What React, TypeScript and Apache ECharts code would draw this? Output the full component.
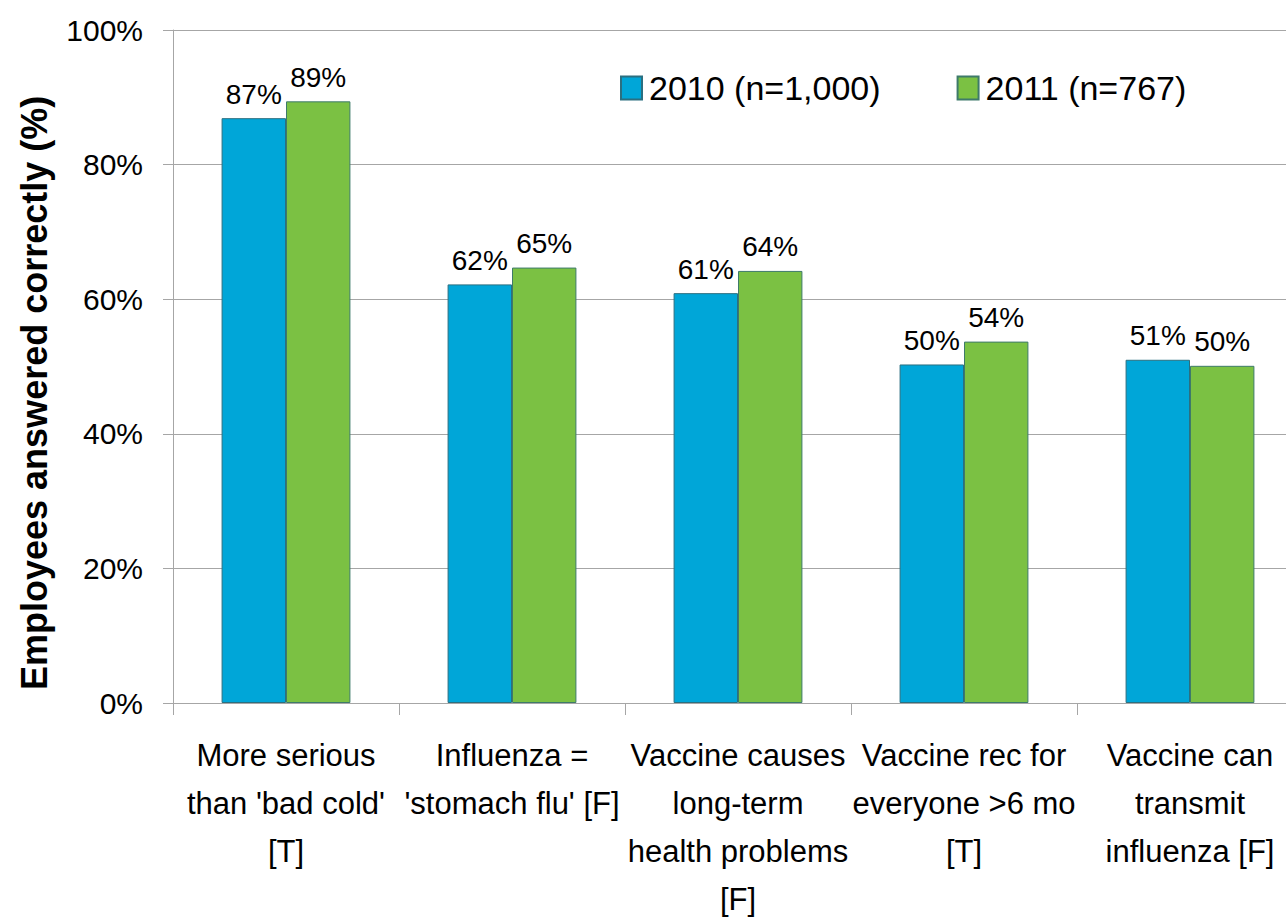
import React, { useEffect, useRef } from "react";
import * as echarts from "echarts";

const categories = [
  "More serious\nthan 'bad cold'\n[T]",
  "Influenza =\n'stomach flu' [F]",
  "Vaccine causes\nlong-term\nhealth problems\n[F]",
  "Vaccine rec for\neveryone >6 mo\n[T]",
  "Vaccine can\ntransmit\ninfluenza [F]",
];
const series2010 = [86.9, 62.2, 60.9, 50.3, 51.0];
const series2011 = [89.4, 64.7, 64.2, 53.7, 50.1];
const seriesNames = ["2010 (n=1,000)", "2011 (n=767)"];
const yTicks = { min: 0, max: 100, interval: 20 };
const yTitle = "Employees answered correctly (%)";

const FONT = "'Liberation Sans', Arial, sans-serif";

export default function App() {
  const ref = useRef<HTMLDivElement>(null);
  useEffect(() => {
    document.body.style.margin = "0";
    document.body.style.overflow = "hidden";
    if (!ref.current) return;
    const chart = echarts.init(ref.current, undefined, { renderer: "svg" });
    const labelCfg = {
      show: true,
      position: "top" as const,
      distance: 10,
      fontSize: 28,
      color: "#000",
      fontFamily: FONT,
      formatter: (p: any) => Math.round(p.value) + "%",
    };
    chart.setOption({
      animation: false,
      backgroundColor: "#fff",
      textStyle: { fontFamily: FONT },
      grid: { left: 173, top: 30, right: 0, height: 679 },
      graphic: [
        {
          type: "text",
          x: 34,
          y: 690,
          rotation: Math.PI / 2,
          style: {
            text: yTitle,
            font: "bold 36px 'Liberation Sans', Arial, sans-serif",
            fill: "#000",
            align: "left",
            verticalAlign: "middle",
          },
        },
      ],
      legend: {
        left: 615,
        top: 66,
        icon: "rect",
        itemWidth: 21,
        itemHeight: 23,
        itemGap: 76,
        textStyle: { fontSize: 34, color: "#000", fontFamily: FONT, padding: [0, 0, 0, 2] },
        data: seriesNames,
      },
      xAxis: {
        type: "category",
        data: categories,
        axisLine: { show: true, lineStyle: { color: "#a6a6a6", width: 1 } },
        axisTick: { show: true, length: 12, lineStyle: { color: "#a6a6a6" } },
        axisLabel: {
          interval: 0,
          margin: 28,
          fontSize: 31,
          lineHeight: 48,
          color: "#000",
          fontFamily: FONT,
        },
      },
      yAxis: {
        type: "value",
        min: yTicks.min,
        max: yTicks.max,
        interval: yTicks.interval,
        axisLine: { show: true, lineStyle: { color: "#a6a6a6", width: 1 } },
        axisTick: { show: true, length: 10, lineStyle: { color: "#a6a6a6" } },
        splitLine: { show: true, lineStyle: { color: "#a6a6a6", width: 1 } },
        axisLabel: {
          margin: 30,
          fontSize: 30,
          color: "#000",
          fontFamily: FONT,
          formatter: "{value}%",
        },
      },
      series: [
        {
          name: seriesNames[0],
          type: "bar",
          data: series2010,
          barGap: "0%",
          barCategoryGap: "43%",
          itemStyle: { color: "#00a6d8", borderColor: "#2b6f80", borderWidth: 1 },
          label: labelCfg,
        },
        {
          name: seriesNames[1],
          type: "bar",
          data: series2011,
          itemStyle: { color: "#7bc143", borderColor: "#3e7a6a", borderWidth: 1 },
          label: labelCfg,
        },
      ],
    });
    return () => chart.dispose();
  }, []);
  return (
    <div style={{ width: 1286, height: 923, overflow: "hidden", position: "relative" }}>
      <div ref={ref} style={{ width: 1303, height: 923 }} />
    </div>
  );
}
